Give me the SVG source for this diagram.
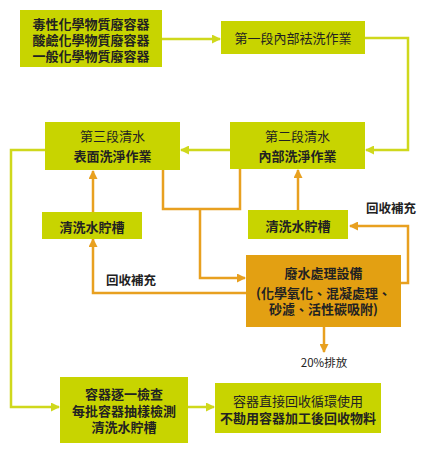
<svg xmlns="http://www.w3.org/2000/svg" width="426" height="452" viewBox="0 0 426 452">
<style>
.g{fill:#c8d400}
.o{fill:#e3a012}
text{font-family:"Noto Sans CJK TC","Noto Sans CJK SC",sans-serif;font-size:13px;fill:#222;text-anchor:middle;dominant-baseline:central}
.b{font-weight:bold}
.yl{fill:none;stroke:#cfd81c;stroke-width:2.5}
.ol{fill:none;stroke:#e8a020;stroke-width:2.5}
</style>
<defs>
<marker id="ay" markerWidth="9" markerHeight="9" refX="8" refY="4.5" orient="auto" markerUnits="userSpaceOnUse"><path d="M0,0 L9,4.5 L0,9 Z" fill="#cfd81c"/></marker>
<marker id="ao" markerWidth="9" markerHeight="9" refX="8" refY="4.5" orient="auto" markerUnits="userSpaceOnUse"><path d="M0,0 L9,4.5 L0,9 Z" fill="#e8a020"/></marker>
</defs>
<rect width="426" height="452" fill="#fff"/>
<g id="connectors">
<path class="yl" d="M162,39 H220" marker-end="url(#ay)"/>
<path class="yl" d="M365,38 H408 V150 H366" marker-end="url(#ay)"/>
<path class="yl" d="M230,150 H181" marker-end="url(#ay)"/>
<path class="yl" d="M45,150 H11 V407 H59" marker-end="url(#ay)"/>
<path class="yl" d="M188,407 H214" marker-end="url(#ay)"/>
<path class="ol" d="M93,212 V171" marker-end="url(#ao)"/>
<path class="ol" d="M298,210 V170" marker-end="url(#ao)"/>
<path class="ol" d="M163,170 V209 H240 V169"/>
<path class="ol" d="M200,209 V278 H245" marker-end="url(#ao)"/>
<path class="ol" d="M246,293 H93 V239" marker-end="url(#ao)"/>
<path class="ol" d="M401,283 H408 V226 H350" marker-end="url(#ao)"/>
<path class="ol" d="M324,327 V352" marker-end="url(#ao)"/>
</g>
<g id="n1"><rect class="g" x="20" y="10" width="142" height="57"/>
<text class="b" x="91" y="23">毒性化學物質廢容器</text>
<text class="b" x="91" y="39">酸鹼化學物質廢容器</text>
<text class="b" x="91" y="55">一般化學物質廢容器</text></g>
<g id="n2"><rect class="g" x="221" y="21" width="144" height="33"/>
<text x="293" y="37">第一段內部袪洗作業</text></g>
<g id="n3"><rect class="g" x="230" y="122" width="135" height="47"/>
<text x="297.5" y="135">第二段清水</text>
<text class="b" x="297.5" y="155">內部洗淨作業</text></g>
<g id="n4"><rect class="g" x="45" y="122" width="135" height="48"/>
<text x="112.5" y="135">第三段清水</text>
<text class="b" x="112.5" y="155">表面洗淨作業</text></g>
<g id="n5"><rect class="g" x="42" y="212" width="100" height="27"/>
<text class="b" x="92" y="226">清洗水貯槽</text></g>
<g id="n6"><rect class="g" x="248" y="210" width="100" height="29"/>
<text class="b" x="298" y="225">清洗水貯槽</text></g>
<g id="n7"><rect class="o" x="246" y="255" width="155" height="72"/>
<text class="b" x="323.5" y="272">廢水處理設備</text>
<text class="b" x="323.5" y="292">(化學氧化、混凝處理、</text>
<text class="b" x="323.5" y="308">砂濾、活性碳吸附)</text></g>
<g id="n8"><rect class="g" x="60" y="377" width="128" height="66"/>
<text class="b" x="124" y="393">容器逐一檢查</text>
<text class="b" x="124" y="410">每批容器抽樣檢測</text>
<text class="b" x="124" y="426">清洗水貯槽</text></g>
<g id="n9"><rect class="g" x="215" y="383" width="166" height="50"/>
<text x="298" y="400">容器直接回收循環使用</text>
<text class="b" x="298" y="417">不勘用容器加工後回收物料</text></g>
<g id="labels">
<text class="b" x="391" y="207" style="font-size:12.5px">回收補充</text>
<text class="b" x="131" y="279" style="font-size:12.5px">回收補充</text>
<text x="324" y="362" style="font-size:11.5px">20%排放</text>
</g>
</svg>
